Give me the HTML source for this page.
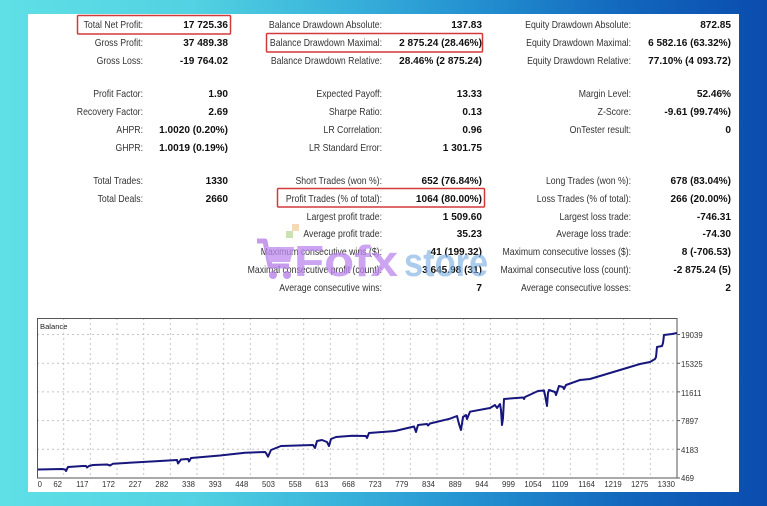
<!DOCTYPE html>
<html><head><meta charset="utf-8"><style>
html,body{margin:0;padding:0;width:767px;height:506px;overflow:hidden;}
body{background:linear-gradient(90deg,#5fe0e6 0%,#52d2e2 25%,#38b2da 45%,#2390d0 62%,#1266bc 82%,#0a4cae 100%);position:relative;font-family:"Liberation Sans",sans-serif;}
.card{position:absolute;left:28px;top:14px;width:711px;height:478px;background:#fff;}
svg{position:absolute;left:0;top:0;}
</style></head><body>
<div class="card"></div>
<svg width="767" height="506" viewBox="0 0 767 506" xmlns="http://www.w3.org/2000/svg" font-family="Liberation Sans, sans-serif">
<g font-size="10.5" fill="#333" text-anchor="end">
<!-- col1 labels -->
<text transform="translate(143,28) scale(0.83,1)">Total Net Profit:</text>
<text transform="translate(143,46) scale(0.83,1)">Gross Profit:</text>
<text transform="translate(143,64) scale(0.83,1)">Gross Loss:</text>
<text transform="translate(143,97) scale(0.83,1)">Profit Factor:</text>
<text transform="translate(143,115) scale(0.83,1)">Recovery Factor:</text>
<text transform="translate(143,133) scale(0.83,1)">AHPR:</text>
<text transform="translate(143,151) scale(0.83,1)">GHPR:</text>
<text transform="translate(143,184) scale(0.83,1)">Total Trades:</text>
<text transform="translate(143,202) scale(0.83,1)">Total Deals:</text>
<!-- col2 labels -->
<text transform="translate(382,28) scale(0.83,1)">Balance Drawdown Absolute:</text>
<text transform="translate(382,46) scale(0.83,1)">Balance Drawdown Maximal:</text>
<text transform="translate(382,64) scale(0.83,1)">Balance Drawdown Relative:</text>
<text transform="translate(382,97) scale(0.83,1)">Expected Payoff:</text>
<text transform="translate(382,115) scale(0.83,1)">Sharpe Ratio:</text>
<text transform="translate(382,133) scale(0.83,1)">LR Correlation:</text>
<text transform="translate(382,151) scale(0.83,1)">LR Standard Error:</text>
<text transform="translate(382,184) scale(0.83,1)">Short Trades (won %):</text>
<text transform="translate(382,202) scale(0.83,1)">Profit Trades (% of total):</text>
<text transform="translate(382,220) scale(0.83,1)">Largest profit trade:</text>
<text transform="translate(382,237) scale(0.83,1)">Average profit trade:</text>
<text transform="translate(382,255) scale(0.83,1)">Maximum consecutive wins ($):</text>
<text transform="translate(382,273) scale(0.83,1)">Maximal consecutive profit (count):</text>
<text transform="translate(382,291) scale(0.83,1)">Average consecutive wins:</text>
<!-- col3 labels -->
<text transform="translate(631,28) scale(0.83,1)">Equity Drawdown Absolute:</text>
<text transform="translate(631,46) scale(0.83,1)">Equity Drawdown Maximal:</text>
<text transform="translate(631,64) scale(0.83,1)">Equity Drawdown Relative:</text>
<text transform="translate(631,97) scale(0.83,1)">Margin Level:</text>
<text transform="translate(631,115) scale(0.83,1)">Z-Score:</text>
<text transform="translate(631,133) scale(0.83,1)">OnTester result:</text>
<text transform="translate(631,184) scale(0.83,1)">Long Trades (won %):</text>
<text transform="translate(631,202) scale(0.83,1)">Loss Trades (% of total):</text>
<text transform="translate(631,220) scale(0.83,1)">Largest loss trade:</text>
<text transform="translate(631,237) scale(0.83,1)">Average loss trade:</text>
<text transform="translate(631,255) scale(0.83,1)">Maximum consecutive losses ($):</text>
<text transform="translate(631,273) scale(0.83,1)">Maximal consecutive loss (count):</text>
<text transform="translate(631,291) scale(0.83,1)">Average consecutive losses:</text>
</g>
<g font-size="10.5" font-weight="bold" fill="#111" text-anchor="end">
<text transform="translate(228,28) scale(0.96,1)">17 725.36</text>
<text transform="translate(228,46) scale(0.96,1)">37 489.38</text>
<text transform="translate(228,64) scale(0.96,1)">-19 764.02</text>
<text transform="translate(228,97) scale(0.96,1)">1.90</text>
<text transform="translate(228,115) scale(0.96,1)">2.69</text>
<text transform="translate(228,133) scale(0.96,1)">1.0020 (0.20%)</text>
<text transform="translate(228,151) scale(0.96,1)">1.0019 (0.19%)</text>
<text transform="translate(228,184) scale(0.96,1)">1330</text>
<text transform="translate(228,202) scale(0.96,1)">2660</text>

<text transform="translate(482,28) scale(0.96,1)">137.83</text>
<text transform="translate(482,46) scale(0.96,1)">2 875.24 (28.46%)</text>
<text transform="translate(482,64) scale(0.96,1)">28.46% (2 875.24)</text>
<text transform="translate(482,97) scale(0.96,1)">13.33</text>
<text transform="translate(482,115) scale(0.96,1)">0.13</text>
<text transform="translate(482,133) scale(0.96,1)">0.96</text>
<text transform="translate(482,151) scale(0.96,1)">1 301.75</text>
<text transform="translate(482,184) scale(0.96,1)">652 (76.84%)</text>
<text transform="translate(482,202) scale(0.96,1)">1064 (80.00%)</text>
<text transform="translate(482,220) scale(0.96,1)">1 509.60</text>
<text transform="translate(482,237) scale(0.96,1)">35.23</text>
<text transform="translate(482,255) scale(0.96,1)">41 (199.32)</text>
<text transform="translate(482,273) scale(0.96,1)">3 645.98 (31)</text>
<text transform="translate(482,291) scale(0.96,1)">7</text>

<text transform="translate(731,28) scale(0.96,1)">872.85</text>
<text transform="translate(731,46) scale(0.96,1)">6 582.16 (63.32%)</text>
<text transform="translate(731,64) scale(0.96,1)">77.10% (4 093.72)</text>
<text transform="translate(731,97) scale(0.96,1)">52.46%</text>
<text transform="translate(731,115) scale(0.96,1)">-9.61 (99.74%)</text>
<text transform="translate(731,133) scale(0.96,1)">0</text>
<text transform="translate(731,184) scale(0.96,1)">678 (83.04%)</text>
<text transform="translate(731,202) scale(0.96,1)">266 (20.00%)</text>
<text transform="translate(731,220) scale(0.96,1)">-746.31</text>
<text transform="translate(731,237) scale(0.96,1)">-74.30</text>
<text transform="translate(731,255) scale(0.96,1)">8 (-706.53)</text>
<text transform="translate(731,273) scale(0.96,1)">-2 875.24 (5)</text>
<text transform="translate(731,291) scale(0.96,1)">2</text>
</g>
<!-- red highlight boxes -->
<g fill="none" stroke="#d23a3a" stroke-width="1.5">
<rect x="77.5" y="15.5" width="153" height="18.5" rx="1"/>
<rect x="266.5" y="33.5" width="216" height="18.5" rx="1"/>
<rect x="277.5" y="188.5" width="207" height="18.5" rx="1"/>
</g>
<!-- watermark -->
<g opacity="0.75">
<rect x="286" y="231" width="7" height="7" fill="#b8d89a"/>
<rect x="292" y="224" width="7" height="7" fill="#f0d0a0"/>
<path d="M257,241 L265,241 L270,266 L289,266" fill="none" stroke="#b47ae6" stroke-width="5" stroke-linejoin="round"/>
<path d="M265,247 L294,247 L290,262 L269,262 Z" fill="#c08cf0"/>
<circle cx="273" cy="275" r="4" fill="#b47ae6"/>
<circle cx="287" cy="275" r="4" fill="#b47ae6"/>
<text x="294" y="276" font-size="44" font-weight="bold" fill="#bb86ee" transform="translate(294,0) scale(1.12,1) translate(-294,0)">Fofx</text>
<text x="404" y="276" font-size="40" font-weight="bold" fill="#7eb0e4" opacity="0.85" transform="translate(404,0) scale(0.86,1) translate(-404,0)">store</text>
</g>
<!-- chart -->
<g stroke="#c4c4c4" stroke-width="1" stroke-dasharray="2,3" fill="none">
<path d="M63.7,318V478M90.3,318V478M117,318V478M143.7,318V478M170.3,318V478M197,318V478M223.7,318V478M250.3,318V478M277,318V478M303.7,318V478M330.3,318V478M357,318V478M383.7,318V478M410.3,318V478M437,318V478M463.7,318V478M490.3,318V478M517,318V478M543.7,318V478M570.3,318V478M597,318V478M623.7,318V478M650.3,318V478"/>
<path d="M37,334.5H677M37,363.2H677M37,391.9H677M37,420.6H677M37,449.3H677"/>
</g>
<rect x="37.5" y="318.5" width="639.5" height="159.5" fill="none" stroke="#555" stroke-width="1"/>
<g stroke="#555" stroke-width="1">
<path d="M677,334.5h3M677,363.2h3M677,391.9h3M677,420.6h3M677,449.3h3M677,478h3"/>
</g>
<text x="40" y="329" font-size="7.6" fill="#222">Balance</text>
<polyline fill="none" stroke="#16167c" stroke-width="2" stroke-linejoin="round" points="38,469.5 62,469 65,469.5 66,471 68,467 83,466 86,466 87,467.5 89,466 93,465 107,464.5 110,465.5 113,463.7 160,461 177,460 178,463.5 181,459.5 188,459 189,461.5 191,458 220,455.5 245,452.7 265,452 266,453 268,456.7 271,450 281,446 313,445 315,448 317,441 322,440 327,442 329,446 331,439 336,437 352,435.7 366,436 367,438 369,433 395,431 414,426.5 416,432 418,425 427,424 428,425.5 430,423.5 450,418.7 457,416 459,424 461,430 463,417 466,415 467,419 470,411.7 490,408 495,405 497,408 500,404 501,410 502,425 503,418 504,399 523,397.5 524,399 525,397 538,391 544,390.5 545,395 547,406 548,393 549,390 552,391 555,392 556,395 559,386 563,387 564,389 566,385 580,380 590,379 600,376 620,370 640,364 650,362 655,359 656,357 657,347 662,346 663,343 664,335 672,334 677,333"/>
<g font-size="7.8" fill="#333" text-anchor="end">
<text x="42" y="487">0</text>
<text x="62" y="487">62</text>
<text x="88.5" y="487">117</text>
<text x="115" y="487">172</text>
<text x="141.7" y="487">227</text>
<text x="168.3" y="487">282</text>
<text x="195" y="487">338</text>
<text x="221.7" y="487">393</text>
<text x="248.3" y="487">448</text>
<text x="275" y="487">503</text>
<text x="301.7" y="487">558</text>
<text x="328.3" y="487">613</text>
<text x="355" y="487">668</text>
<text x="381.7" y="487">723</text>
<text x="408.3" y="487">779</text>
<text x="435" y="487">834</text>
<text x="461.7" y="487">889</text>
<text x="488.3" y="487">944</text>
<text x="515" y="487">999</text>
<text x="541.7" y="487">1054</text>
<text x="568.3" y="487">1109</text>
<text x="595" y="487">1164</text>
<text x="621.7" y="487">1219</text>
<text x="648.3" y="487">1275</text>
<text x="675" y="487">1330</text>
</g>
<g font-size="7.8" fill="#333">
<text x="681" y="338">19039</text>
<text x="681" y="367">15325</text>
<text x="681" y="396">11611</text>
<text x="681" y="424">7897</text>
<text x="681" y="453">4183</text>
<text x="681" y="481">469</text>
</g>
</svg>
</body></html>
